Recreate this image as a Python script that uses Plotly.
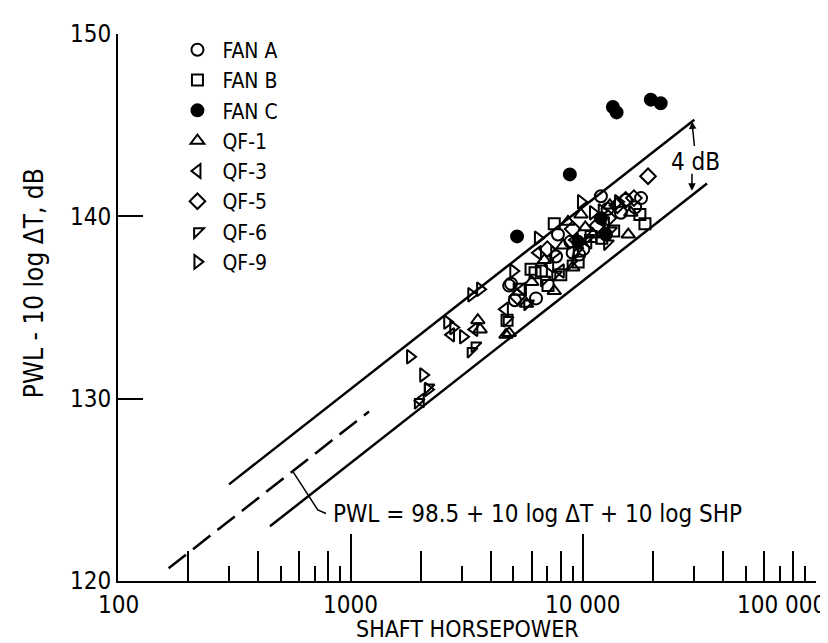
import numpy as np
import plotly.graph_objects as go

# ---------------- data ----------------
FAN_A_X = [11900, 15200, 17700, 16700, 7780, 7630, 4890, 5080, 6260, 9000, 10000, 12700, 8800, 4800, 9600, 14500]
FAN_A_Y = [141.1, 140.9, 141.0, 140.5, 139.0, 137.8, 136.3, 135.4, 135.5, 138.0, 138.2, 140.4, 138.6, 136.2, 137.9, 140.2]

FAN_B_X = [18400, 17500, 5960, 6200, 7050, 4700, 8000, 9500, 12000, 13500, 7500, 5300, 10800, 6600]
FAN_B_Y = [139.6, 140.1, 137.1, 136.9, 136.2, 134.3, 136.8, 137.5, 138.8, 139.2, 139.6, 136.0, 138.9, 137.0]

FAN_C_X = [13400, 13900, 19500, 21500, 8750, 5190, 11900, 12500, 9500]
FAN_C_Y = [146.0, 145.7, 146.4, 146.2, 142.3, 138.9, 139.9, 139.0, 138.6]

QF1_X = [15600, 8590, 9770, 10200, 7500, 4800, 3520, 3600, 4650, 13000, 6800, 11000, 9000, 5700, 16000, 6000, 8200]
QF1_Y = [139.0, 139.7, 140.1, 139.4, 135.9, 133.6, 134.3, 133.8, 133.5, 140.6, 137.6, 139.0, 137.2, 135.2, 140.2, 136.4, 138.4]

QF3_X = [6380, 4600, 3400, 8000, 10500, 12500, 2000, 5500, 9200, 2700, 7200]
QF3_Y = [138.0, 134.9, 133.8, 137.0, 138.6, 139.6, 129.9, 136.0, 138.7, 133.5, 137.3]

QF5_X = [18970, 15200, 14000, 9000, 11500, 7000, 5200, 16500, 12800]
QF5_Y = [142.2, 140.9, 140.6, 139.3, 139.5, 138.2, 135.6, 141.0, 139.9]

QF6_X = [3290, 3420, 2150, 1950, 5760, 8850, 12700, 4700, 10500, 6800, 9400, 13100, 7600]
QF6_Y = [132.6, 132.9, 130.6, 129.8, 135.2, 137.4, 138.5, 134.3, 138.8, 136.5, 138.1, 139.2, 136.8]

QF9_X = [9770, 6380, 3600, 2760, 3040, 1800, 2050, 2150, 3300, 14100, 7500, 5000, 11000, 12000, 2600]
QF9_Y = [140.8, 138.8, 136.0, 133.9, 133.4, 132.3, 131.3, 130.5, 135.7, 140.8, 138.0, 137.0, 140.2, 140.3, 134.2]

SERIES_NAMES = ["FAN A", "FAN B", "FAN C", "QF-1", "QF-3", "QF-5", "QF-6", "QF-9"]

# limit lines (endpoints)
UPPER_X = [300, 30000]
UPPER_Y = [125.3, 145.3]
LOWER_X = [450, 34000]
LOWER_Y = [123.0, 141.8]
MEAN_X = [165, 1200]
MEAN_Y = [120.7, 129.3]

# leader line of the equation label
LEADER_X = [565, 722, 783]
LEADER_Y = [126.0, 123.9, 123.7]

# "4 dB" arrow
BAND_X = 29300
BAND_TOP = 145.2
BAND_BOT = 141.4

X_TICK_VALS = [100, 1000, 10000, 100000]
X_TICK_TEXT = ["100", "1000", "10 000", "100 000"]
X_MID_TICKS = [200, 400, 600, 800, 2000, 4000, 6000, 8000, 20000, 40000, 60000, 80000]
X_SHORT_TICKS = [300, 500, 700, 900, 3000, 5000, 7000, 9000, 30000, 50000, 70000, 90000]
Y_TICK_VALS = [120, 130, 140, 150]

FONT = "DejaVu Sans Condensed, Liberation Sans Narrow, sans-serif"

series = [
    (FAN_A_X, FAN_A_Y, "circle-open", 12),
    (FAN_B_X, FAN_B_Y, "square-open", 11),
    (FAN_C_X, FAN_C_Y, "circle", 12),
    (QF1_X, QF1_Y, "triangle-up-open", 12),
    (QF3_X, QF3_Y, "triangle-left-open", 12),
    (QF5_X, QF5_Y, "diamond-open", 12),
    (QF6_X, QF6_Y, "triangle-nw-open", 11),
    (QF9_X, QF9_Y, "triangle-right-open", 12),
]

fig = go.Figure()

# lines
fig.add_trace(go.Scatter(x=UPPER_X, y=UPPER_Y, mode="lines", line=dict(color="black", width=2.5),
                         showlegend=False, hoverinfo="skip"))
fig.add_trace(go.Scatter(x=LOWER_X, y=LOWER_Y, mode="lines", line=dict(color="black", width=2.5),
                         showlegend=False, hoverinfo="skip"))
fig.add_trace(go.Scatter(x=MEAN_X, y=MEAN_Y, mode="lines", xaxis="x2",
                         line=dict(color="black", width=2.5, dash="22px,9px"),
                         showlegend=False, hoverinfo="skip"))
fig.add_trace(go.Scatter(x=LEADER_X, y=LEADER_Y, mode="lines", line=dict(color="black", width=1.5),
                         showlegend=False, hoverinfo="skip"))

for (xs, ys, sym, sz), name in zip(series, SERIES_NAMES):
    fig.add_trace(go.Scatter(
        x=xs, y=ys, mode="markers", name=name,
        marker=dict(symbol=sym, size=sz, color="black", line=dict(color="black", width=2)),
    ))

annotations = []
for v, t in zip(X_TICK_VALS, X_TICK_TEXT):
    a = dict(x=np.log10(v), y=-0.043, xref="x", yref="paper", text=t, showarrow=False,
             font=dict(family=FONT, size=24, color="black"), xanchor="center", yanchor="middle")
    if v == 100000:
        a.update(xanchor="right", xshift=12)
    annotations.append(a)

annotations.append(dict(x=0.5, y=-0.088, xref="paper", yref="paper", text="SHAFT HORSEPOWER",
                        showarrow=False, font=dict(family=FONT, size=23, color="black"),
                        xanchor="center", yanchor="middle"))
annotations.append(dict(x=-0.12, y=0.545, xref="paper", yref="paper", text="PWL - 10 log ΔT, dB",
                        showarrow=False, textangle=-90, font=dict(family=FONT, size=26, color="black"),
                        xanchor="center", yanchor="middle"))
annotations.append(dict(x=np.log10(LEADER_X[-1]), y=LEADER_Y[-1], xref="x", yref="y",
                        text="PWL = 98.5 + 10 log ΔT + 10 log SHP", showarrow=False,
                        font=dict(family=FONT, size=24, color="black"), xanchor="left", yanchor="middle",
                        xshift=5))
annotations.append(dict(x=np.log10(BAND_X), y=BAND_TOP, xref="x", yref="y", text="4 dB",
                        showarrow=True, ax=4, ay=40, arrowhead=2, arrowsize=1, arrowwidth=1.5,
                        arrowcolor="black", standoff=0,
                        font=dict(family=FONT, size=24, color="black")))
annotations.append(dict(x=np.log10(BAND_X), y=BAND_BOT, xref="x", yref="y", text=" ",
                        showarrow=True, ax=0, ay=-22, arrowhead=2, arrowsize=1, arrowwidth=1.5,
                        arrowcolor="black", standoff=0,
                        font=dict(family=FONT, size=6, color="black")))

fig.update_layout(
    width=828, height=643,
    margin=dict(l=110, r=20, t=17, b=70),
    paper_bgcolor="white", plot_bgcolor="white",
    font=dict(family=FONT, size=24, color="black"),
    xaxis=dict(type="log", range=[2, 5], showline=True, linecolor="black", linewidth=2,
               ticks="inside", tickvals=X_TICK_VALS[1:], ticklen=47, tickwidth=2, tickcolor="black",
               showticklabels=False, showgrid=False, zeroline=False,
               minor=dict(tickvals=X_MID_TICKS, ticks="inside", ticklen=30, tickwidth=1.5,
                          tickcolor="black", showgrid=False)),
    xaxis2=dict(type="log", range=[2, 5], overlaying="x", anchor="y", side="bottom",
                ticks="inside", tickvals=X_SHORT_TICKS, ticklen=15, tickwidth=1.5, tickcolor="black",
                showticklabels=False, showgrid=False, showline=False, zeroline=False),
    yaxis=dict(range=[120, 150], tickvals=Y_TICK_VALS, ticks="inside", ticklen=25, tickwidth=1.5,
               tickcolor="black", showline=True, linecolor="black", linewidth=2, showgrid=False,
               zeroline=False, tickfont=dict(family=FONT, size=24, color="black")),
    legend=dict(x=0.078, y=1.008, xanchor="left", yanchor="top", bgcolor="rgba(0,0,0,0)",
                font=dict(family=FONT, size=21, color="black"), itemwidth=40),
    annotations=annotations,
    showlegend=True,
)

fig.write_html("out.html")
